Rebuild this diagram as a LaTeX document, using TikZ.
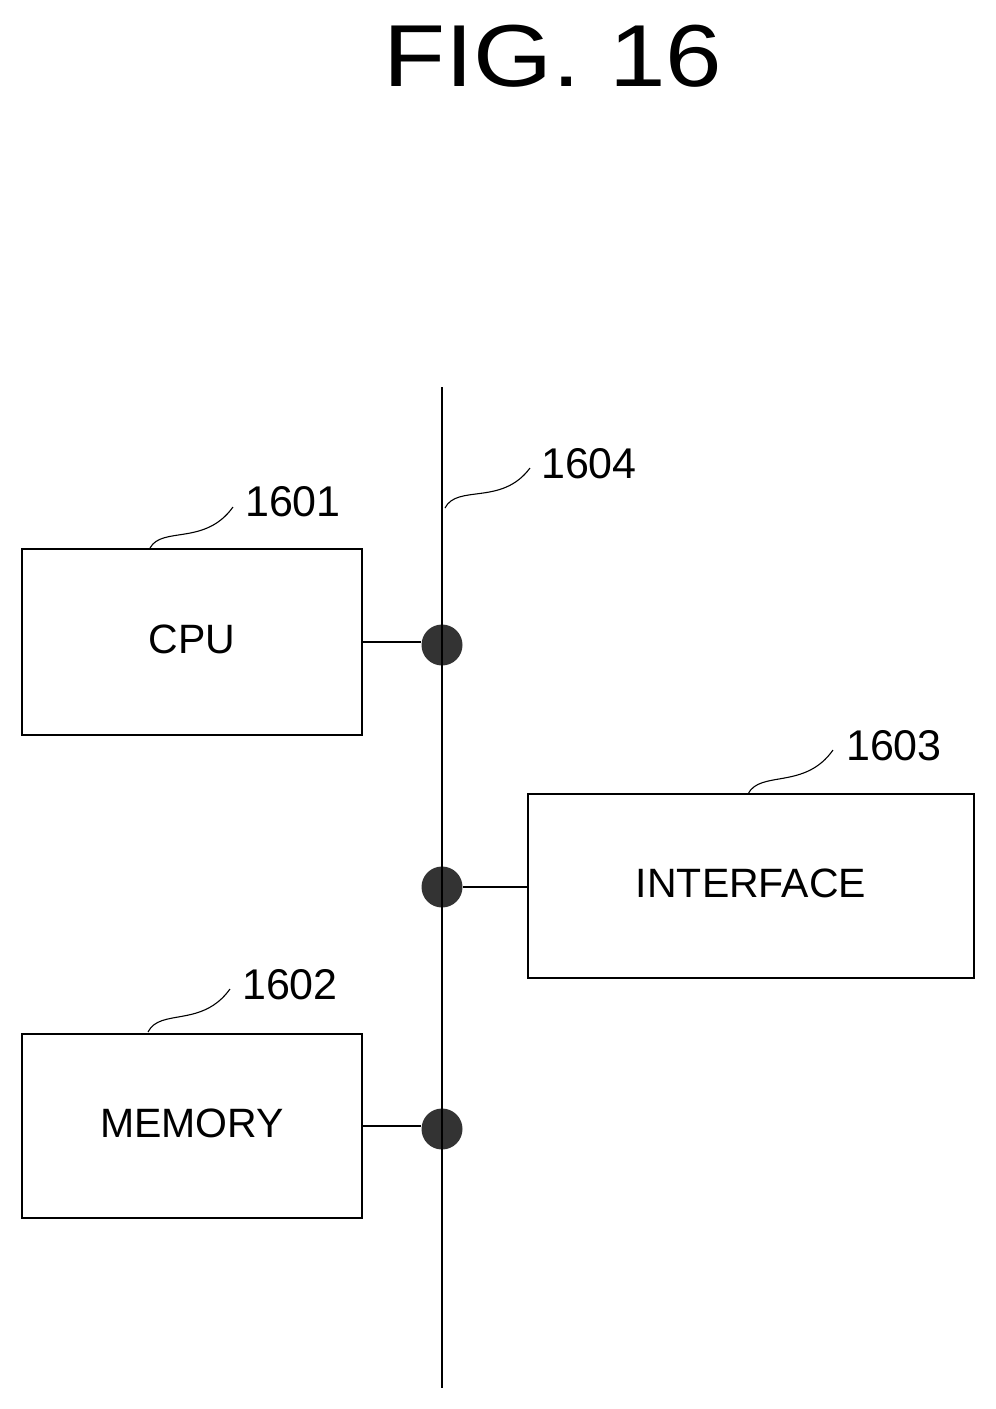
\documentclass[tikz,border=0pt]{standalone}
\usepackage{fontspec}
\setmainfont{Liberation Sans}
\usepackage{tikz}
\begin{document}
\begin{tikzpicture}
            [x=1pt,y=-1pt,line width=1.6pt,every node/.style={inner sep=0pt},
            box/.style={draw,rectangle,font=\fontsize{41}{41}\selectfont},
            dot/.style={circle,fill=black!80,minimum size=41},
            num/.style={font=\fontsize{43}{43}\selectfont},
            leader/.style={line width=1.1pt}]
            \useasboundingbox (0,0) rectangle (996,1409);
            \node[font=\fontsize{88}{88}\selectfont,xscale=1.155] (title) at (553,56) {FIG.\ 16};
            \node[box,minimum width=340,minimum height=186] (1601) at (192,642) {\raisebox{6pt}{CPU}};
            \node[box,minimum width=446,minimum height=184] (1603) at (751,886) {\raisebox{5pt}{INTERFACE}};
            \node[box,minimum width=340,minimum height=184] (1602) at (192,1126) {\raisebox{6pt}{MEMORY}};
            \coordinate (top) at (442,387);
            \coordinate (bottom) at (442,1388);
            \node[dot] (d1) at (442,645) {};
            \node[dot] (d2) at (442,887) {};
            \node[dot] (d3) at (442,1129) {};
            \node[num] (n1) at (293,502) {1601};
            \node[num] (n2) at (290,985) {1602};
            \node[num] (n3) at (894,746) {1603};
            \node[num] (n4) at (589,464) {1604};
            % the bus
            \draw (top) -- (bottom);
            \draw (1601.east) -- (1601.east -| d1.west);
            \draw (d2) -- (1603.west |- d2);
            \draw (1602.east) -- (1602.east -| d3.west);
            % leaders
            \coordinate (l1) at (150,548);
            \coordinate (e1) at (233,507);
            \coordinate (l2) at (148,1032);
            \coordinate (e2) at (230,989);
            \coordinate (l3) at (748,794);
            \coordinate (e3) at (833,750);
            \coordinate (l4) at (445,508);
            \coordinate (e4) at (530,468);
            \draw[leader] (l1) .. controls (162,526) and (205,546) .. (e1);
            \draw[leader] (l2) .. controls (160,1008) and (202,1028) .. (e2);
            \draw[leader] (l3) .. controls (760,770) and (805,790) .. (e3);
            \draw[leader] (l4) .. controls (457,484) and (502,506) .. (e4);
        \end{tikzpicture}
\end{document}
